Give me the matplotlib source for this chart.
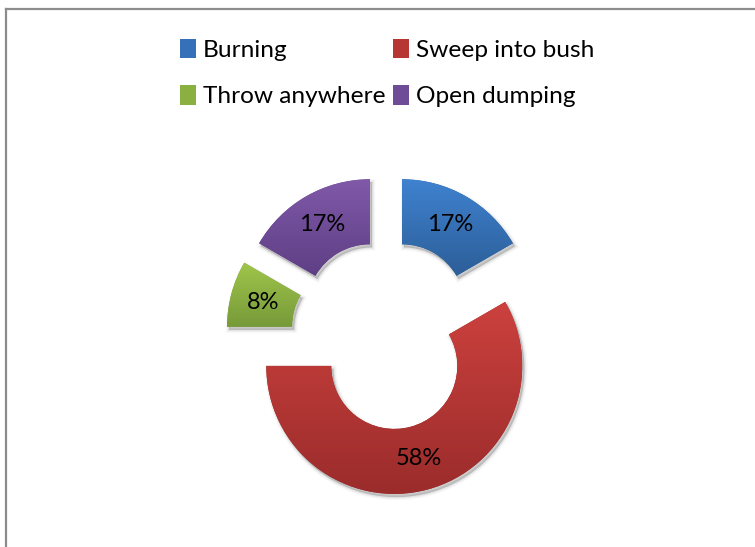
import numpy as np
import matplotlib
matplotlib.use('Agg')
import matplotlib.pyplot as plt
from matplotlib.patches import Wedge, Patch
from matplotlib.colors import LinearSegmentedColormap

# data
categories = ['Burning', 'Sweep into bush', 'Throw anywhere', 'Open dumping']
counts = [2, 7, 1, 2]
# (top, bottom) gradient colours of each slice
top_colors = ['#3f82d0', '#cc413e', '#9fc54b', '#8059a9']
bottom_colors = ['#2c5e98', '#9a2c2b', '#779a39', '#5e3f84']
legend_colors = ['#3670b8', '#b73533', '#8bb042', '#6f4c98']

plt.rcParams['font.family'] = ['Lato', 'DejaVu Sans']
fs = 17
lfs = 17.6

fig = plt.figure(figsize=(7.55, 5.47), dpi=100)
ax = fig.add_axes([0, 0, 1, 1])

wedges, texts, autotexts = ax.pie(
    counts, radius=128, center=(386, 212), startangle=90, counterclock=False,
    explode=[32] * len(counts), wedgeprops=dict(width=65, linewidth=0),
    autopct='%.0f%%', pctdistance=0.745, textprops=dict(fontsize=fs, color='black'))

ax.set_xlim(0, 755)
ax.set_ylim(0, 547)
ax.set_aspect('equal')
ax.axis('off')

# soft shadow + vertical gradient on every slice
for w, c_top, c_bot in zip(wedges, top_colors, bottom_colors):
    for k, a in enumerate([0.07, 0.05, 0.035, 0.02]):
        sh = Wedge((w.center[0] + 2, w.center[1] - 3), w.r, w.theta1, w.theta2,
                   width=w.width, facecolor='#000000', alpha=a, edgecolor='#000000',
                   linewidth=0.5 + 1.5 * k, zorder=0.5)
        ax.add_patch(sh)
    w.set_zorder(1)
    w.set_facecolor(c_bot)
    ext = w.get_path().get_extents()
    cmap = LinearSegmentedColormap.from_list('g', [c_bot, c_top])
    grad = np.linspace(0, 1, 256).reshape(-1, 1)
    im = ax.imshow(grad, cmap=cmap, origin='lower', aspect='auto',
                   extent=(ext.x0, ext.x1, ext.y0, ext.y1), zorder=1.5)
    im.set_clip_path(w)

for t in autotexts:
    t.set_zorder(3)

ax.set_xlim(0, 755)
ax.set_ylim(0, 547)

# legend, row by row
handles = [Patch(facecolor=c, edgecolor='none') for c in legend_colors]
order = [0, 2, 1, 3]
fig.legend([handles[i] for i in order], [categories[i] for i in order],
           ncol=2, loc='upper left', bbox_to_anchor=(180 / 755, 1 - 39 / 547),
           frameon=False, fontsize=lfs, handlelength=0.65, handleheight=0.85,
           handletextpad=0.3, columnspacing=0.3, labelspacing=0.98,
           borderaxespad=0, borderpad=0)

# chart border (left and top only, the rest is cropped)
fig.add_artist(plt.Line2D([5.5 / 755, 5.5 / 755], [0, 1 - 8.5 / 547],
                          color='#8c8c8c', linewidth=1.6))
fig.add_artist(plt.Line2D([5.5 / 755, 1], [1 - 8.5 / 547, 1 - 8.5 / 547],
                          color='#8c8c8c', linewidth=1.6))

fig.savefig('out.png', dpi=100)
